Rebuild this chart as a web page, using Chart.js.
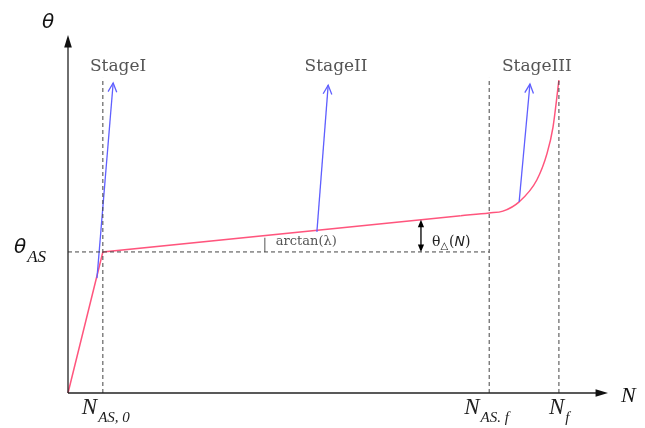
<!DOCTYPE html>
<html>
<head>
<meta charset="utf-8">
<script src="https://cdn.jsdelivr.net/npm/chart.js@4/dist/chart.umd.min.js"></script>
<style>
  body { margin: 0; background: #fff; }
  canvas { display: block; }
</style>
</head>
<body>
<canvas id="chart" width="645" height="428"></canvas>
<script>
// DATA (N in arbitrary units, N_f = 100; theta in arbitrary units)
const nAS0 = 7.1;
const nASf = 85.8;
const nF = 100;
const thetaAS = 39.4;

const linearN = [0, 7.1, 80.0];
const linearTheta = [0, 39.4, 49.5];

const stage3N = [80.0, 85.8, 88.6, 91.9, 95.5, 97.6, 98.8, 100];
const stage3Theta = [49.5, 50.3, 50.8, 53.4, 59.5, 67.0, 74.3, 87.4];

const arrowFromN = [5.9, 50.7, 91.9];
const arrowFromTheta = [32.1, 45.0, 53.4];
const arrowToN = [9.2, 53.0, 94.1];
const arrowToTheta = [86.6, 86.0, 86.3];

const stageLabels = ["StageI", "StageII", "StageIII"];
const stageLabelN = [10.2, 54.6, 95.5];

const tickN = [nAS0, nASf, nF];
const tickMain = ["N", "N", "N"];
const tickSub = ["AS, 0", "AS. f", "f"];

const dashTop = 88;
const lambdaN = 40.1;
const deltaN = 71.9;

const RED = "rgb(255, 85, 125)";
const BLUE = "rgb(95, 95, 255)";
const GREY = "#444";

function pts(xs, ys) {
  return xs.map((x, i) => ({ x: x, y: ys[i] }));
}

function line(data, color, width, dash, extra) {
  return Object.assign({
    data: data,
    showLine: true,
    borderColor: color,
    borderWidth: width,
    borderDash: dash || [],
    pointRadius: 0,
    pointHoverRadius: 0,
    fill: false,
    clip: false,
    tension: 0,
  }, extra || {});
}

const datasets = [];

// axes
datasets.push(line([{ x: 0, y: 0 }, { x: 109, y: 0 }], "#222", 1.3));
datasets.push(line([{ x: 0, y: 0 }, { x: 0, y: 98 }], "#222", 1.3));

// dashed guides
tickN.forEach(n => {
  datasets.push(line([{ x: n, y: 0 }, { x: n, y: dashTop }], GREY, 1, [4, 3]));
});
datasets.push(line([{ x: 0, y: thetaAS }, { x: nASf, y: thetaAS }], GREY, 1, [4, 3]));

// stage arrows
arrowFromN.forEach((n, i) => {
  datasets.push(line([{ x: n, y: arrowFromTheta[i] }, { x: arrowToN[i], y: arrowToTheta[i] }], BLUE, 1.3));
});

// curve
datasets.push(line(pts(linearN, linearTheta), RED, 1.5));
datasets.push(line(pts(stage3N, stage3Theta), RED, 1.5, null, { cubicInterpolationMode: "monotone" }));

// arctan tick
const redAt = n => linearTheta[1] + (linearTheta[2] - linearTheta[1]) * (n - linearN[1]) / (linearN[2] - linearN[1]);
datasets.push(line([{ x: lambdaN, y: thetaAS }, { x: lambdaN, y: redAt(lambdaN) - 0.6 }], "#555", 1));
// delta double arrow
datasets.push(line([{ x: deltaN, y: thetaAS + 1.5 }, { x: deltaN, y: redAt(deltaN) - 1.5 }], "#000", 1.3));

function arrowHead(ctx, x1, y1, x2, y2, len, half, filled, color) {
  const a = Math.atan2(y2 - y1, x2 - x1);
  const p1 = [x2 - len * Math.cos(a - half), y2 - len * Math.sin(a - half)];
  const p2 = [x2 - len * Math.cos(a + half), y2 - len * Math.sin(a + half)];
  ctx.beginPath();
  if (filled) {
    ctx.moveTo(x2, y2);
    ctx.lineTo(p1[0], p1[1]);
    ctx.lineTo(p2[0], p2[1]);
    ctx.closePath();
    ctx.fillStyle = color;
    ctx.fill();
  } else {
    ctx.moveTo(p1[0], p1[1]);
    ctx.lineTo(x2, y2);
    ctx.lineTo(p2[0], p2[1]);
    ctx.strokeStyle = color;
    ctx.lineWidth = 1.3;
    ctx.stroke();
  }
}

function subText(ctx, x, y, main, sub, mainFont, subFont, dy, color) {
  ctx.fillStyle = color;
  ctx.textBaseline = "alphabetic";
  ctx.textAlign = "left";
  ctx.font = mainFont;
  ctx.fillText(main, x, y);
  const w = ctx.measureText(main).width;
  ctx.font = subFont;
  ctx.fillText(sub, x + w + 1, y + dy);
  return w + 1 + ctx.measureText(sub).width;
}

const decor = {
  id: "decor",
  afterDatasetsDraw(chart) {
    const ctx = chart.ctx;
    const xs = chart.scales.x, ys = chart.scales.y;
    const px = v => xs.getPixelForValue(v);
    const py = v => ys.getPixelForValue(v);
    ctx.save();

    // axis arrowheads
    arrowHead(ctx, px(0), py(0), px(110), py(0), 13, 0.3, true, "#111");
    arrowHead(ctx, px(0), py(0), px(0), py(100), 13, 0.3, true, "#111");

    // stage arrowheads
    arrowFromN.forEach((n, i) => {
      arrowHead(ctx, px(n), py(arrowFromTheta[i]), px(arrowToN[i]), py(arrowToTheta[i]), 10, 0.45, false, BLUE);
    });

    // delta double arrow heads
    arrowHead(ctx, px(deltaN), py(thetaAS + 5), px(deltaN), py(thetaAS), 8, 0.4, true, "#000");
    arrowHead(ctx, px(deltaN), py(thetaAS + 3), px(deltaN), py(redAt(deltaN)), 8, 0.4, true, "#000");

    // stage labels
    ctx.fillStyle = "#555";
    ctx.font = "17px 'DejaVu Serif'";
    ctx.textAlign = "center";
    ctx.textBaseline = "middle";
    stageLabels.forEach((s, i) => ctx.fillText(s, px(stageLabelN[i]), py(91.3)));

    // arctan label
    ctx.font = "13px 'DejaVu Serif'";
    ctx.fillStyle = "#555";
    ctx.textAlign = "left";
    ctx.fillText("arctan(λ)", px(lambdaN) + 11, py(thetaAS) - 10);

    // theta delta label
    ctx.fillStyle = "#222";
    const dx = px(deltaN) + 11, dyy = py(thetaAS) - 6;
    ctx.textBaseline = "alphabetic";
    ctx.font = "14px 'DejaVu Serif'";
    ctx.fillText("θ", dx, dyy);
    let w = ctx.measureText("θ").width;
    ctx.font = "10px 'DejaVu Sans'";
    ctx.fillText("△", dx + w, dyy + 3);
    w += ctx.measureText("△").width;
    ctx.font = "14px 'DejaVu Serif'";
    ctx.fillText("(", dx + w + 1, dyy);
    w += 1 + ctx.measureText("(").width;
    ctx.font = "italic 14px 'DejaVu Sans'";
    ctx.fillText("N", dx + w, dyy);
    w += ctx.measureText("N").width;
    ctx.font = "14px 'DejaVu Serif'";
    ctx.fillText(")", dx + w, dyy);

    // axis titles
    ctx.fillStyle = "#111";
    ctx.font = "italic 20px 'DejaVu Sans'";
    ctx.textAlign = "left";
    ctx.textBaseline = "alphabetic";
    ctx.fillText("θ", px(0) - 26, 28);
    ctx.font = "italic 22px 'Liberation Serif'";
    ctx.fillText("N", px(110) + 13, py(0) + 9);
    subText(ctx, px(0) - 54, py(thetaAS) + 1, "θ", "AS", "italic 20px 'DejaVu Sans'", "italic 17px 'Liberation Serif'", 9, "#111");

    // N ticks
    const mainF = "italic 23px 'Liberation Serif'";
    const subF = "italic 15px 'Liberation Serif'";
    const starts = [px(tickN[0]) - 21, px(tickN[1]) - 25, px(tickN[2]) - 10];
    tickN.forEach((n, i) => {
      subText(ctx, starts[i], py(0) + 21, tickMain[i], tickSub[i], mainF, subF, 8, "#222");
    });

    ctx.restore();
  }
};

new Chart(document.getElementById("chart"), {
  type: "scatter",
  data: { datasets: datasets },
  options: {
    responsive: false,
    animation: false,
    events: [],
    layout: { padding: { left: 68, right: 37, top: 35, bottom: 35 } },
    plugins: { legend: { display: false }, tooltip: { enabled: false } },
    scales: {
      x: { type: "linear", min: 0, max: 110, display: false },
      y: { type: "linear", min: 0, max: 100, display: false },
    },
  },
  plugins: [decor],
});
</script>
</body>
</html>
